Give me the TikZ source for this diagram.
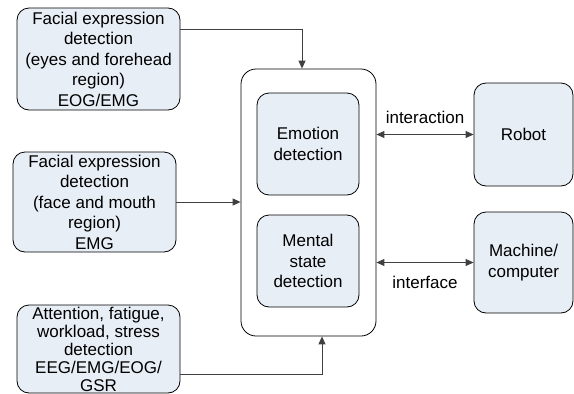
\documentclass[tikz,border=0pt]{standalone}
\usepackage{fontspec}
\setmainfont{Liberation Sans}
\usetikzlibrary{arrows.meta}
\definecolor{boxfill}{HTML}{E8EEF6}
\definecolor{linegray}{HTML}{404040}
\begin{document}
\begin{tikzpicture}[x=1pt,y=-1pt,
        font=\fontsize{17}{20.5}\selectfont,
        srcbox/.style={draw, line width=0.8pt, fill=boxfill, rounded corners=12pt, align=center, inner sep=0pt},
        corebox/.style={draw, line width=0.8pt, rounded corners=15pt, inner sep=0pt},
        arr/.style={draw=linegray, line width=0.9pt, -{Triangle[length=8pt,width=7pt]}},
        twoarr/.style={draw=linegray, line width=0.9pt, {Triangle[length=8pt,width=7pt]}-{Triangle[length=8pt,width=7pt]}}]
        \useasboundingbox (0,0) rectangle (574,394);

        % Sensing inputs
        \node[srcbox, minimum width=163pt, minimum height=102pt] (eyes) at (98.5,59)
            {Facial expression\\detection\\(eyes and forehead\\region)\\EOG/EMG};
        \node[srcbox, minimum width=163pt, minimum height=100pt] (mouth) at (94.5,202)
            {Facial expression\\detection\\(face and mouth\\region)\\EMG};
        \node[srcbox, minimum width=163pt, minimum height=88pt, font=\fontsize{17}{18}\selectfont] (stress) at (98.5,349)
            {Attention, fatigue,\\workload, stress\\detection\\EEG/EMG/EOG/\\GSR};

        % Detection block
        \node[corebox, minimum width=135pt, minimum height=267pt] (core) at (308.5,202.5) {};
        \node[srcbox, minimum width=102pt, minimum height=102pt] (emotion) at (308,144) {Emotion\\detection};
        \node[srcbox, minimum width=102pt, minimum height=92pt] (mental) at (308,261) {Mental\\state\\detection};

        % Outputs
        \node[srcbox, minimum width=99pt, minimum height=103pt] (robot) at (523.5,134.5) {Robot};
        \node[srcbox, minimum width=99pt, minimum height=101pt] (machine) at (523.5,262.5) {Machine/\\computer};

        % Connectors
        \draw[arr] ([yshift=30pt]eyes.east) -| ([xshift=-6.5pt]core.north);
        \draw[arr] (mouth.east) -- (mouth.east -| core.west);
        \draw[arr] ([yshift=-25pt]stress.east) -| ([xshift=13.5pt]core.south);
        \draw[twoarr] (robot.west -| core.east) -- node[above=7pt] {interaction} (robot.west);
        \draw[twoarr] (machine.west -| core.east) -- node[below=10pt] {interface} (machine.west);
    \end{tikzpicture}
\end{document}
